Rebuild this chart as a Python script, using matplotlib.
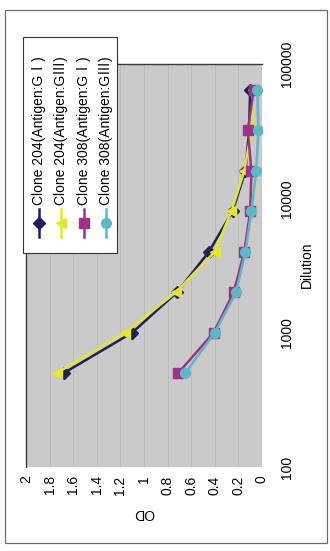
"""ELISA titration curves (OD vs dilution), drawn in portrait orientation."""

import matplotlib

matplotlib.use("Agg")
import matplotlib.pyplot as plt
from matplotlib.lines import Line2D
from matplotlib.patches import Rectangle
from matplotlib.ticker import NullLocator

plt.rcParams["font.family"] = ["Liberation Sans", "Noto Sans CJK JP", "DejaVu Sans"]

dilution = [500, 1000, 2000, 4000, 8000, 16000, 32000, 64000]
od_204_g1 = [1.68, 1.10, 0.72, 0.45, 0.25, 0.14, 0.11, 0.10]
od_204_g3 = [1.74, 1.16, 0.73, 0.40, 0.26, 0.15, 0.09, 0.08]
od_308_g1 = [0.71, 0.41, 0.24, 0.15, 0.10, 0.09, 0.12, 0.07]
od_308_g3 = [0.65, 0.40, 0.22, 0.14, 0.09, 0.05, 0.03, 0.04]

series_labels = [
    "Clone 204(Antigen:GⅠ)",
    "Clone 204(Antigen:GⅢ)",
    "Clone 308(Antigen:GⅠ)",
    "Clone 308(Antigen:GⅢ)",
]
series_colors = ["#1f1f5c", "#e6e62a", "#9c3388", "#5cb8c4"]
series_markers = ["D", "<", "s", "o"]
series_sizes = [6, 7, 6.5, 7]

od_ticks = [0, 0.2, 0.4, 0.6, 0.8, 1.0, 1.2, 1.4, 1.6, 1.8, 2.0]
od_tick_labels = ["0", "0.2", "0.4", "0.6", "0.8", "1", "1.2", "1.4", "1.6", "1.8", "2"]
dilution_ticks = [100, 1000, 10000, 100000]
dilution_tick_labels = ["100", "1000", "10000", "100000"]

W, H = 330, 551


def fx(x):
    return x / W


def fy(y):
    return 1 - y / H


fig = plt.figure(figsize=(W / 100, H / 100), dpi=100)
fig.patch.set_facecolor("white")

# chart frame
fig.add_artist(
    Rectangle((fx(5), fy(543)), (327 - 5) / W, (543 - 10) / H,
              transform=fig.transFigure, fill=False, ec="#6a6a6a", lw=0.9)
)

ax = fig.add_axes([fx(26), fy(467), (262 - 26) / W, (467 - 64) / H])
ax.set_facecolor("#cacaca")
ax.set_xlim(2, 0)
ax.set_yscale("log")
ax.set_ylim(100, 100000)

all_series = [od_204_g1, od_204_g3, od_308_g1, od_308_g3]
for od, color, marker, ms in zip(all_series, series_colors, series_markers, series_sizes):
    ax.plot(od, dilution, color=color, lw=1.8, marker=marker, ms=ms,
            mec=color, mfc=color, zorder=3)

ax.set_xticks(od_ticks)
ax.set_xticklabels(od_tick_labels, rotation=90, va="top", ha="center")
ax.tick_params(axis="x", length=0, pad=6, labelsize=10)
ax.grid(axis="x", color="#b9b9b9", lw=0.6)
ax.set_axisbelow(True)

ax.yaxis.tick_right()
ax.set_yticks(dilution_ticks)
ax.set_yticklabels(dilution_tick_labels, rotation=90, va="center", ha="left")
ax.yaxis.set_minor_locator(NullLocator())
ax.tick_params(axis="y", length=0, pad=13, labelsize=10)

for side in ("left", "top"):
    ax.spines[side].set_color("#3a3a3a")
    ax.spines[side].set_linewidth(1.0)
for side in ("right", "bottom"):
    ax.spines[side].set_visible(False)

fig.text(fx(307), fy(265), "Dilution", rotation=90, ha="center", va="center", fontsize=10)
fig.text(fx(144), fy(513), "OD", rotation=180, ha="center", va="center", fontsize=10)

# legend, laid out sideways to match the rotated chart
fig.add_artist(
    Rectangle((fx(23), fy(253)), (117 - 23) / W, (253 - 37) / H,
              transform=fig.transFigure, fc="white", ec="#333333", lw=0.8)
)
for x, label, color, marker, ms in zip([39, 61, 84, 106], series_labels,
                                       series_colors, series_markers, series_sizes):
    fig.add_artist(Line2D([fx(x), fx(x)], [fy(209), fy(237)], color=color, lw=1.8,
                          transform=fig.transFigure))
    fig.add_artist(Line2D([fx(x)], [fy(223)], color=color, marker=marker, ms=ms,
                          mfc=color, mec=color, transform=fig.transFigure))
    fig.text(fx(x), fy(205), label, rotation=90, ha="center", va="bottom", fontsize=10)

fig.savefig("out.png", dpi=100)
